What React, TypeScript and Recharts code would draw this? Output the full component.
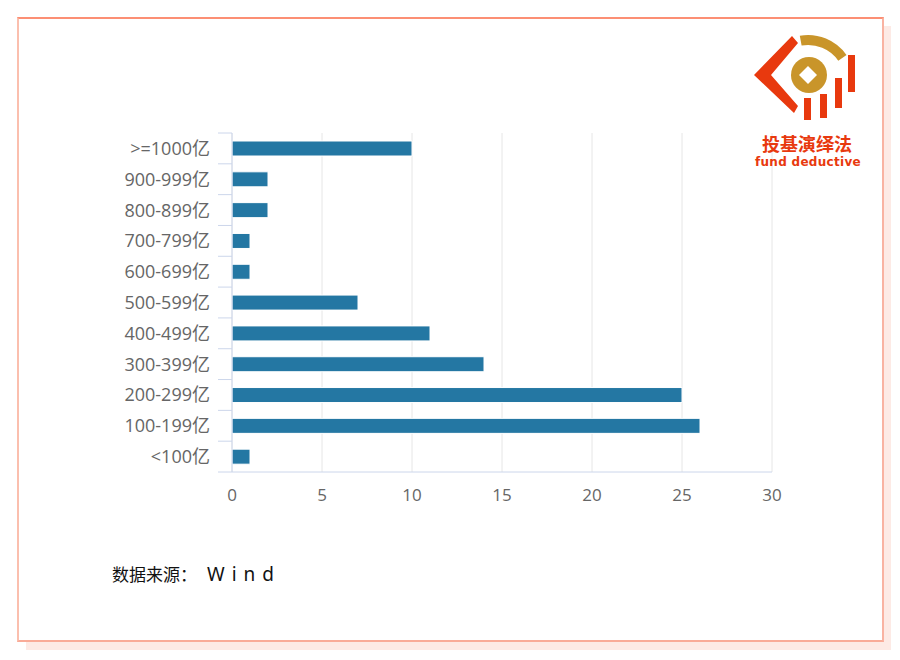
import React from 'react';
import { BarChart, Bar, XAxis, YAxis, CartesianGrid } from 'recharts';

const categories = ['>=1000亿', '900-999亿', '800-899亿', '700-799亿', '600-699亿', '500-599亿', '400-499亿', '300-399亿', '200-299亿', '100-199亿', '<100亿'];
const counts = [10, 2, 2, 1, 1, 7, 11, 14, 25, 26, 1];
const xTicks = [0, 5, 10, 15, 20, 25, 30];

const data = categories.map((name, i) => ({ name, count: counts[i] }));

const AXIS_COLOR = '#ccd6eb';
const LABEL_FONT = '"Open Sans", "Noto Sans CJK SC", sans-serif';
const RED = '#e8390e';
const GOLD = '#c9952a';

// category ticks sit between the bands, like the original chart
const CategoryTick = (props: any) => {
    const { x, y, payload, index, visibleTicksCount } = props;
    const half = payload && payload.offset ? payload.offset : 15.4;
    const isLast = index === visibleTicksCount - 1;
    return (
        <g>
            <line x1={x + 8} x2={x + 22} y1={y - half} y2={y - half} stroke={AXIS_COLOR} />
            {isLast && <line x1={x + 8} x2={x + 22} y1={y + half} y2={y + half} stroke={AXIS_COLOR} />}
            <text x={x} y={y} dy="0.36em" textAnchor="end" fill="#666" fontSize={18} fontFamily={LABEL_FONT}>
                {payload.value}
            </text>
        </g>
    );
};

// point on a circle, angle measured clockwise from straight up
const pt = (cx: number, cy: number, r: number, deg: number) => {
    const a = (deg * Math.PI) / 180;
    return `${(cx + r * Math.sin(a)).toFixed(1)} ${(cy - r * Math.cos(a)).toFixed(1)}`;
};

const Logo: React.FC = () => {
    const arc = `M ${pt(808, 82, 47, -10)} A 47 47 0 0 1 ${pt(808, 82, 47, 55)} L ${pt(808, 82, 37, 55)} A 37 37 0 0 0 ${pt(808, 82, 37, -10)} Z`;
    return (
        <svg width={120} height={150} style={{ position: 'absolute', left: 745, top: 25 }} viewBox="745 25 120 150">
            <polygon points="754,75 792,36 798,43 771,75 798,106 794,113" fill={RED} />
            <path d={arc} fill={GOLD} />
            <circle cx={809} cy={75} r={18} fill={GOLD} />
            <polygon points="808,66 817,75 808,84 799,75" fill="#fff" />
            <rect x={804} y={98} width={7} height={22} fill={RED} />
            <rect x={820} y={94} width={7} height={24} fill={RED} />
            <rect x={835} y={78} width={7} height={30} fill={RED} />
            <rect x={848} y={55} width={7} height={37} fill={RED} />
            <text x={807} y={151} textAnchor="middle" fontSize={18} fontWeight="bold" fill={RED} fontFamily='"Noto Sans CJK SC", sans-serif'>
                投基演绎法
            </text>
            <text x={808} y={166} textAnchor="middle" fontSize={12} fontWeight="bold" fill={RED} fontFamily='"DejaVu Sans", sans-serif' letterSpacing={0.3}>
                fund deductive
            </text>
        </svg>
    );
};

const App: React.FC = () => {
    return (
        <div style={{ position: 'absolute', left: 0, top: 0, width: 900, height: 660, background: '#fff', overflow: 'hidden' }}>
            {/* shadow behind the card */}
            <div style={{ position: 'absolute', left: 26, top: 26, width: 865, height: 624, background: '#fdeae5' }} />
            <div
                style={{
                    position: 'absolute', left: 17, top: 17, width: 867, height: 625, background: '#fff',
                    borderTop: '2px solid #fc8f74', borderLeft: '2px solid #fbbfae',
                    borderRight: '2px solid #f9b3a2', borderBottom: '2px solid #f9ab98', boxSizing: 'border-box',
                }}
            />
            <div style={{ position: 'absolute', left: 0, top: 0 }}>
                <BarChart
                    width={900}
                    height={660}
                    data={data}
                    layout="vertical"
                    margin={{ top: 133, right: 128, bottom: 158, left: 0 }}
                    barCategoryGap={0}
                >
                    <CartesianGrid horizontal={false} stroke="#e6e6e6" />
                    <XAxis
                        type="number"
                        domain={[0, 30]}
                        ticks={xTicks}
                        height={30}
                        tickLine={false}
                        tickSize={0}
                        tickMargin={17}
                        axisLine={{ stroke: AXIS_COLOR }}
                        tick={{ fill: '#666', fontSize: 17, fontFamily: LABEL_FONT }}
                        interval={0}
                    />
                    <YAxis
                        type="category"
                        dataKey="name"
                        width={232}
                        tickLine={false}
                        tickSize={14}
                        tickMargin={8}
                        axisLine={{ stroke: AXIS_COLOR }}
                        tick={<CategoryTick />}
                        interval={0}
                    />
                    <Bar dataKey="count" fill="#2477a3" stroke="#ffffff" strokeWidth={1} barSize={15} isAnimationActive={false} />
                </BarChart>
            </div>
            <div
                style={{
                    position: 'absolute', left: 112, top: 564, fontSize: 17, lineHeight: '20px', color: '#111',
                    fontFamily: '"Noto Sans CJK SC", sans-serif', whiteSpace: 'nowrap',
                }}
            >
                数据来源：<span style={{ letterSpacing: 7, marginLeft: 10, fontSize: 19, fontFamily: '"Noto Sans", sans-serif' }}>Wind</span>
            </div>
            <Logo />
        </div>
    );
};

export default App;
